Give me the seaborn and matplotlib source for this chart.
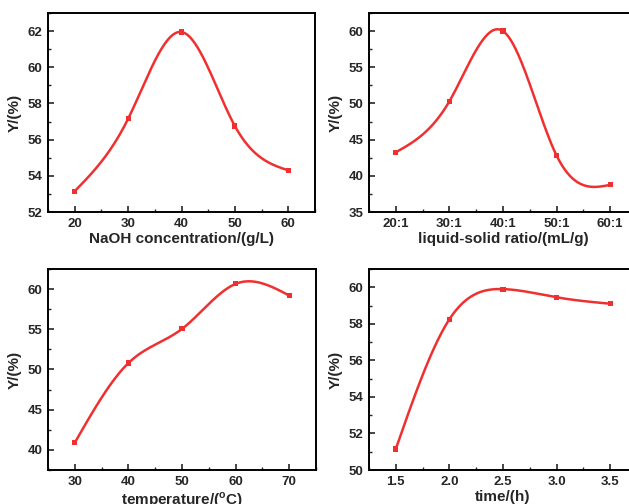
import numpy as np
import pandas as pd
import matplotlib
matplotlib.use("Agg")
import matplotlib.pyplot as plt
import seaborn as sns
from matplotlib.ticker import AutoMinorLocator

naoh_conc = [20, 30, 40, 50, 60]
naoh_yield = [53.15, 57.15, 61.95, 56.75, 54.3]

ratio_x = [20, 30, 40, 50, 60]
ratio_labels = ["20:1", "30:1", "40:1", "50:1", "60:1"]
ratio_yield = [43.25, 50.3, 60.0, 42.8, 38.75]

temperature = [30, 40, 50, 60, 70]
temp_yield = [40.9, 50.8, 55.05, 60.65, 59.2]

time_h = [1.5, 2.0, 2.5, 3.0, 3.5]
time_yield = [51.15, 58.25, 59.9, 59.45, 59.1]

RED = "#f03030"

sns.set_theme(style="ticks")
plt.rcParams["font.family"] = ["Liberation Sans", "DejaVu Sans"]
plt.rcParams["font.weight"] = "bold"
plt.rcParams["axes.labelweight"] = "bold"


def spline_curve(x, y, n=300):
    """natural cubic spline through the points (like Origin's spline connect)"""
    x = np.asarray(x, float)
    y = np.asarray(y, float)
    k = len(x)
    h = np.diff(x)
    A = np.zeros((k, k))
    b = np.zeros(k)
    A[0, 0] = A[-1, -1] = 1
    for i in range(1, k - 1):
        A[i, i - 1] = h[i - 1]
        A[i, i] = 2 * (h[i - 1] + h[i])
        A[i, i + 1] = h[i]
        b[i] = 6 * ((y[i + 1] - y[i]) / h[i] - (y[i] - y[i - 1]) / h[i - 1])
    M = np.linalg.solve(A, b)
    xs = np.linspace(x[0], x[-1], n)
    idx = np.clip(np.searchsorted(x, xs) - 1, 0, k - 2)
    x0, x1 = x[idx], x[idx + 1]
    hh = x1 - x0
    ys = (M[idx] * (x1 - xs) ** 3 / (6 * hh) + M[idx + 1] * (xs - x0) ** 3 / (6 * hh)
          + (y[idx] / hh - M[idx] * hh / 6) * (x1 - xs)
          + (y[idx + 1] / hh - M[idx + 1] * hh / 6) * (xs - x0))
    return xs, ys


def draw_panel(ax, x, y, xlabel, xlim, ylim, yticks, xticks, xticklabels=None):
    xs, ys = spline_curve(x, y)
    sns.lineplot(x=xs, y=ys, ax=ax, color=RED, linewidth=1.8)
    sns.scatterplot(x=x, y=y, ax=ax, color=RED, marker="s", s=14, edgecolor="none", zorder=3)
    ax.set_xlim(*xlim)
    ax.set_ylim(*ylim)
    ax.set_xticks(xticks)
    if xticklabels is not None:
        ax.set_xticklabels(xticklabels)
    ax.set_yticks(yticks)
    ax.xaxis.set_minor_locator(AutoMinorLocator(2))
    ax.yaxis.set_minor_locator(AutoMinorLocator(2))
    ax.tick_params(which="major", direction="in", length=4, width=1.2, labelsize=9.5, pad=4)
    ax.tick_params(which="minor", direction="in", length=2, width=1.0)
    for lab in ax.get_xticklabels() + ax.get_yticklabels():
        lab.set_fontweight("bold")
    for sp in ax.spines.values():
        sp.set_linewidth(1.4)
        sp.set_color("black")
    ax.set_xlabel(xlabel, fontsize=11, fontweight="bold", labelpad=2)
    ax.set_ylabel("Y/(%)", fontsize=11, fontweight="bold", labelpad=4)


W, H = 629, 504
fig = plt.figure(figsize=(W / 100, H / 100), dpi=100)


def add_ax(left, top, right, bottom):
    return fig.add_axes([left / W, 1 - bottom / H, (right - left) / W, (bottom - top) / H])


ax1 = add_ax(48, 13, 315, 212)
ax2 = add_ax(369, 13, 637, 212)
ax3 = add_ax(48, 269, 316, 470)
ax4 = add_ax(369, 269, 637, 470)

draw_panel(ax1, naoh_conc, naoh_yield, "NaOH concentration/(g/L)",
           (15, 65), (52, 63), [52, 54, 56, 58, 60, 62], [20, 30, 40, 50, 60])
draw_panel(ax2, ratio_x, ratio_yield, "liquid-solid ratio/(mL/g)",
           (15, 65), (35, 62.5), [35, 40, 45, 50, 55, 60], ratio_x, ratio_labels)
draw_panel(ax3, temperature, temp_yield, "temperature/($^\\mathregular{o}$C)",
           (25, 75), (37.5, 62.5), [40, 45, 50, 55, 60], [30, 40, 50, 60, 70])
draw_panel(ax4, time_h, time_yield, "time/(h)",
           (1.25, 3.75), (50, 61), [50, 52, 54, 56, 58, 60], [1.5, 2.0, 2.5, 3.0, 3.5],
           ["1.5", "2.0", "2.5", "3.0", "3.5"])

fig.savefig("out.png", dpi=100)
